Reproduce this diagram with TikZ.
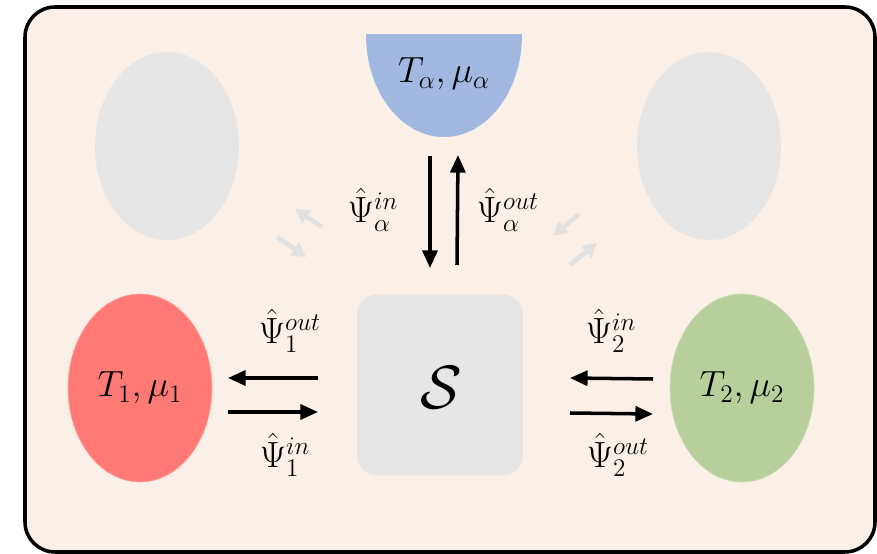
\documentclass[tikz,border=0pt]{standalone}
\usepackage{amsmath,amssymb}
\usetikzlibrary{arrows.meta,shapes.geometric}
\definecolor{bgpeach}{HTML}{FBF0E8}
\definecolor{ghostgray}{HTML}{E6E6E6}
\definecolor{faintgray}{HTML}{E2E2E2}
\definecolor{bathred}{HTML}{FF7A75}
\definecolor{bathgreen}{HTML}{B8CF9C}
\definecolor{bathblue}{HTML}{A1B8E1}
\begin{document}
\begin{tikzpicture}[x=0.02cm,y=-0.02cm,
  bath/.style={ellipse, minimum width=2.88cm, minimum height=3.76cm, inner sep=0pt, font=\fontsize{20}{24}\selectfont},
  flux/.style={-{Triangle[length=10pt,width=8.5pt]}, line width=2pt},
  faint/.style={-{Triangle[length=8pt,width=8.5pt]}, line width=2.6pt, faintgray},
  lbl/.style={font=\fontsize{20.5}{24}\selectfont}]
\useasboundingbox (0,0) rectangle (877,554);
\draw[line width=2pt, rounded corners=0.6cm, fill=bgpeach] (25,7) rectangle (875,552);
\node[bath, fill=ghostgray] (ghostL) at (167,146) {};
\node[bath, fill=ghostgray] (ghostR) at (709,146) {};
\node[bath, fill=bathred, draw=bathred!70!white, line width=0.4pt] (res1) at (140,388) {$T_1,\mu_1$};
\node[bath, fill=bathgreen, draw=bathgreen!80!white, line width=0.4pt] (res2) at (742,388) {$T_2,\mu_2$};
\begin{scope}
\clip (340,35) rectangle (560,160);
\fill[bathblue] (444,35) ellipse[x radius=78, y radius=102];
\end{scope}
\node[lbl] (resA) at (444,74) {$T_\alpha,\mu_\alpha$};
\node[fill=ghostgray, rounded corners=0.4cm, minimum width=3.32cm, minimum height=3.62cm] (sys) at (440,385) {};
\node[font=\Huge, scale=1.4] (sysLabel) at (441,388) {$\mathcal{S}$};
\coordinate (aInS) at (430,156);
\coordinate (aInE) at (430,268);
\coordinate (aOutS) at (457,265);
\coordinate (aOutE) at (458,155);
\draw[flux] (aInS) -- (aInE);
\draw[flux] (aOutS) -- (aOutE);
\node[lbl] (lAin) at (373,210) {$\hat{\Psi}_\alpha^{in}$};
\node[lbl] (lAout) at (508,210) {$\hat{\Psi}_\alpha^{out}$};
\coordinate (oneOutS) at (318,378);
\coordinate (oneOutE) at (228,378);
\coordinate (oneInS) at (228,412);
\coordinate (oneInE) at (318,412);
\draw[flux] (oneOutS) -- (oneOutE);
\draw[flux] (oneInS) -- (oneInE);
\node[lbl] (l1out) at (290,331) {$\hat{\Psi}_1^{out}$};
\node[lbl] (l1in) at (285,455) {$\hat{\Psi}_1^{in}$};
\coordinate (twoInS) at (653,379);
\coordinate (twoInE) at (570,378);
\coordinate (twoOutS) at (570,413);
\coordinate (twoOutE) at (653,414);
\draw[flux] (twoInS) -- (twoInE);
\draw[flux] (twoOutS) -- (twoOutE);
\node[lbl] (l2in) at (611,331) {$\hat{\Psi}_2^{in}$};
\node[lbl] (l2out) at (618,455) {$\hat{\Psi}_2^{out}$};
\coordinate (fL1s) at (322,227);
\coordinate (fL1e) at (295,209);
\coordinate (fL2s) at (277,237);
\coordinate (fL2e) at (306,257);
\coordinate (fR1s) at (579,214);
\coordinate (fR1e) at (553,236);
\coordinate (fR2s) at (570,265);
\coordinate (fR2e) at (597,243);
\draw[faint] (fL1s) -- (fL1e);
\draw[faint] (fL2s) -- (fL2e);
\draw[faint] (fR1s) -- (fR1e);
\draw[faint] (fR2s) -- (fR2e);
\end{tikzpicture}
\end{document}
